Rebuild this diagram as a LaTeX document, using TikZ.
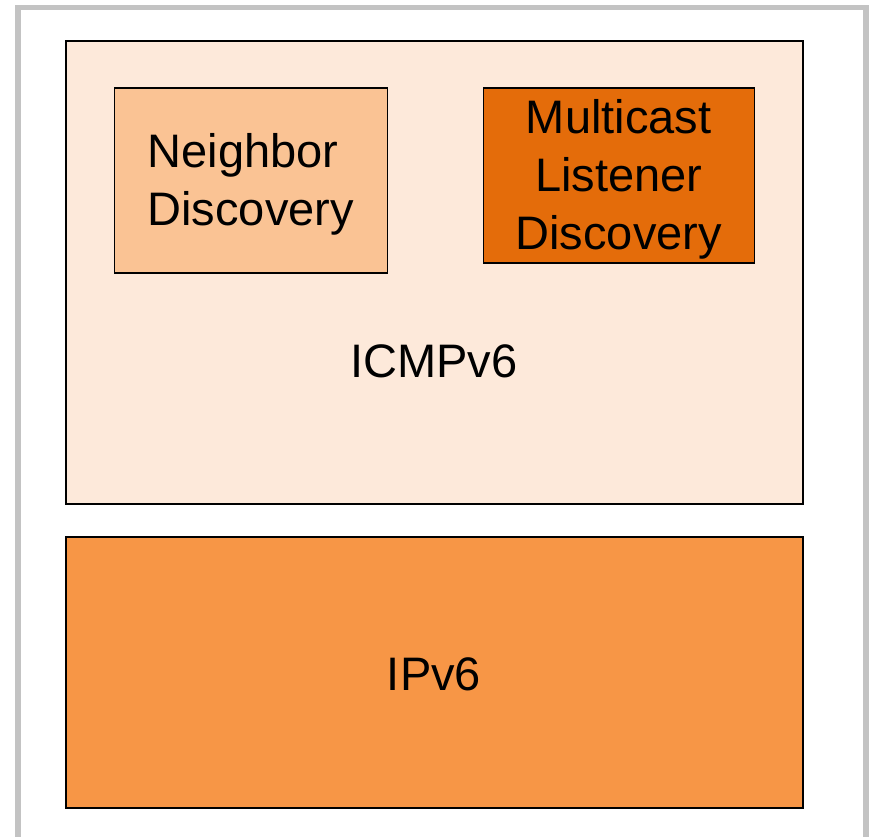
\documentclass[tikz,border=0pt]{standalone}
\usepackage{fontspec}
\setmainfont{Liberation Sans}
\definecolor{frameGray}{HTML}{C3C3C3}
\definecolor{icmpFill}{HTML}{FDE9DA}
\definecolor{ndFill}{HTML}{FAC394}
\definecolor{mldFill}{HTML}{E46C0A}
\definecolor{ipFill}{HTML}{F79646}
\begin{document}
\begin{tikzpicture}[x=1pt,y=1pt,
  layer/.style={draw=black, line width=2pt, inner sep=0pt, anchor=north west},
  proto/.style={draw=black, line width=1.4pt, inner sep=0pt, anchor=north west},
  label/.style={font=\fontsize{47}{58}\selectfont, inner sep=0pt}]
\useasboundingbox (0,0) rectangle (869,836);
% outer frame, open at the bottom
\draw[frameGray, line width=5.5pt] (18,-10) -- (18,828.5) -- (866,828.5) -- (866,-10);
% ICMPv6 layer
\node[layer, fill=icmpFill, minimum width=737pt, minimum height=463pt] (icmp) at (65,796) {};
\node[label] (icmplbl) at (434,475) {ICMPv6};
% IPv6 layer
\node[layer, fill=ipFill, minimum width=737pt, minimum height=271pt] (ip) at (65,300) {};
\node[label] (iplbl) at (434,162) {IPv6};
% protocols inside ICMPv6
\node[proto, fill=ndFill, minimum width=273pt, minimum height=185pt] (nd) at (113.5,748.5) {};
\node[label, align=left] (ndlbl) at ([yshift=-4pt]nd.center) {Neighbor\\Discovery};
\node[proto, fill=mldFill, minimum width=271pt, minimum height=175pt] (mld) at (482.5,748.5) {};
\node[label, align=center] (mldlbl) at ([yshift=-4pt]mld.center) {Multicast\\Listener\\Discovery};
\end{tikzpicture}
\end{document}
